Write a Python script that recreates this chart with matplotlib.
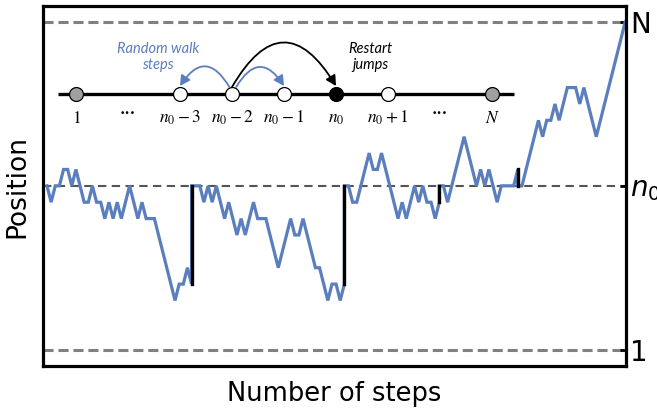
import matplotlib
matplotlib.use("Agg")
from matplotlib import pyplot as plt
from matplotlib.patches import FancyArrowPatch

# walk position relative to n0 at every step (value reached before any restart)
walk = [0, -1, 0, 0, 1, 1, 0, 1, 0, -1, -1, 0, -1, -1, -2, -1, -2, -1, -2, -1,
        0, -1, -2, -1, -2, -2, -2, -3, -4, -5, -6, -7, -6, -6, -5, -6,
        0, 0, -1, 0, -1, 0, -1, -2, -1, -2, -3, -2, -3, -2, -1, -2, -2, -2,
        -3, -4, -5, -4, -3, -2, -3, -3, -2, -3, -4, -5, -5, -6, -7, -6, -6,
        -7, -6,
        0, -1, -1, 0, 1, 2, 1, 1, 2, 1, 0, -1, -2, -1, -2, -1, 0, -1, 0, -1,
        -1, -2, -1,
        0, -1, 0, 1, 2, 3, 2, 1, 0, 1, 0, 1, 0, -1, 0, 0, 0, 0, 1,
        0, 1, 2, 3, 4, 3, 4, 4, 5, 4, 5, 6, 6, 6, 5, 6, 5, 4, 3, 4, 5, 6, 7,
        8, 9, 10]
restart_steps = [35, 72, 95, 114]

level_values = [-10, 0, 10]
level_labels = ["1", "$n_0$", "N"]

node_labels = ["$1$", "•••", "$n_0-3$", "$n_0-2$", "$n_0-1$", "$n_0$",
               "$n_0+1$", "•••", "$N$"]
node_colors = ["#a0a0a0", None, "white", "white", "white", "black",
               "white", None, "#a0a0a0"]

blue = "#5b7fbe"

# build the line, with the jump back to n0 at each restart
xs, ys = [], []
for k, v in enumerate(walk):
    xs.append(k)
    ys.append(v)
    if k in restart_steps:
        xs.append(k)
        ys.append(0)

fig = plt.figure(figsize=(6.57, 4.16), dpi=100)
ax = fig.add_axes([43 / 657, 50 / 416, 583 / 657, 360 / 416])

ax.axhline(10, color="#808080", lw=2.2, dashes=(3.3, 1.6), zorder=1)
ax.axhline(-10, color="#808080", lw=2.2, dashes=(3.3, 1.6), zorder=1)
ax.axhline(0, color="#555555", lw=1.5, dashes=(4, 2.6), zorder=1)

ax.plot(xs, ys, color=blue, lw=2.3, solid_joinstyle="miter", zorder=2)
for k in restart_steps:
    ax.plot([k, k], [walk[k], 0], color="black", lw=2.4, zorder=3)

ax.set_xlim(-0.97, 140.2)
ax.set_ylim(-11.0, 10.98)
ax.set_xticks([])
ax.yaxis.tick_right()
ax.set_yticks(level_values)
ax.set_yticklabels(level_labels, fontsize=20)
ax.tick_params(axis="y", direction="in", length=4.5, width=2, pad=3)
for s in ax.spines.values():
    s.set_linewidth(2.3)

ax.set_xlabel("Number of steps", fontsize=18.5, labelpad=11)
ax.set_ylabel("Position", fontsize=19, labelpad=9)

# schematic of the walk on the line 1..N
ov = fig.add_axes([0, 0, 1, 1], zorder=5)
ov.set_axis_off()
ov.patch.set_visible(False)
ov.set_xlim(-76 / 52, 581 / 52)
ov.set_ylim(416, 0)

ov.plot([-0.35, 8.42], [94, 94], color="black", lw=2.4, solid_capstyle="butt")
for i, (lab, c) in enumerate(zip(node_labels, node_colors)):
    if c is not None:
        ov.plot(i, 94, "o", ms=10, mfc=c, mec="black", mew=0.9)
    if lab == "•••":
        ov.text(i, 113, lab, fontsize=6.5, ha="center", va="center")
    else:
        ov.text(i, 118, lab, fontsize=12.5, ha="center", va="center",
                math_fontfamily="stix")

arrow_kw = dict(shrinkA=0, shrinkB=0, lw=1.3, mutation_scale=1,
                arrowstyle="-|>,head_length=6,head_width=3.2")
ov.add_patch(FancyArrowPatch((2.95, 87), (2.0, 86), color=blue,
                             connectionstyle="arc3,rad=0.8", **arrow_kw))
ov.add_patch(FancyArrowPatch((3.08, 87), (4.0, 86), color=blue,
                             connectionstyle="arc3,rad=-0.8", **arrow_kw))
ov.add_patch(FancyArrowPatch((3.0, 87), (5.0, 86), color="black",
                             connectionstyle="arc3,rad=-0.84", **arrow_kw))

ov.text(1.58, 57, "Random walk\nsteps", color=blue, fontsize=10.5,
        family="Lato", style="italic", ha="center", va="center",
        linespacing=1.25)
ov.text(5.66, 57, "Restart\njumps", color="black", fontsize=10.5,
        family="Lato", style="italic", ha="center", va="center",
        linespacing=1.25)

fig.savefig("out.png", dpi=100)
